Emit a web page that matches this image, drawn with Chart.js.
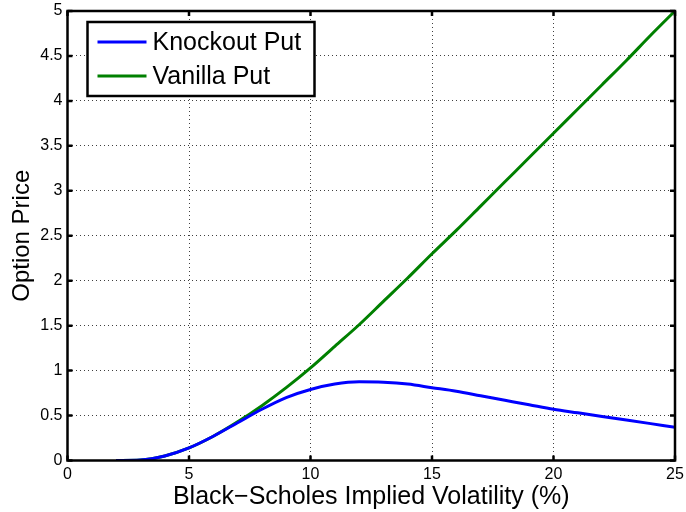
<!DOCTYPE html>
<html>
<head>
<meta charset="utf-8">
<title>Option Price vs Implied Volatility</title>
<script src="https://cdn.jsdelivr.net/npm/chart.js@4.4.1/dist/chart.umd.min.js"></script>
<style>
  body { margin: 0; background: #fff; }
</style>
</head>
<body>
<canvas id="myChart" width="686" height="512"></canvas>
<script>
// implied vol (%)
var vols = [2, 3, 4, 5, 6, 7, 8, 9, 10, 11, 12, 13, 14, 15, 16, 17, 18, 19, 20, 21, 22, 23, 24, 25];
var knockoutPut = [0, 0.005, 0.05, 0.14, 0.27, 0.42, 0.57, 0.70, 0.79, 0.85, 0.875, 0.87, 0.85, 0.81, 0.77, 0.72, 0.67, 0.62, 0.57, 0.53, 0.49, 0.45, 0.41, 0.37];
var vanillaPut = [0, 0.005, 0.05, 0.14, 0.27, 0.43, 0.61, 0.81, 1.03, 1.27, 1.51, 1.77, 2.03, 2.30, 2.56, 2.83, 3.10, 3.37, 3.64, 3.91, 4.18, 4.45, 4.73, 5.0];
var xTickLabels = ['0', '5', '10', '15', '20', '25'];
var yTickLabels = ['0', '0.5', '1', '1.5', '2', '2.5', '3', '3.5', '4', '4.5', '5'];

function toPoints(ys) {
    var pts = [];
    for (var i = 0; i < vols.length; i++) pts.push({x: vols[i], y: ys[i]});
    return pts;
}

var FONT = 'Liberation Sans, Arial, Helvetica, sans-serif';

// matlab style box, inward ticks and boxed legend
var matlabBox = {
    id: 'matlabBox',
    afterDraw: function(chart) {
        var ctx = chart.ctx;
        var a = chart.chartArea;
        var sx = chart.scales.x, sy = chart.scales.y;
        var tl = 5;
        ctx.save();
        ctx.strokeStyle = '#000';
        ctx.lineWidth = 2.5;
        ctx.beginPath();
        sx.ticks.forEach(function(t) {
            var px = sx.getPixelForValue(t.value);
            ctx.moveTo(px, a.bottom); ctx.lineTo(px, a.bottom - tl);
            ctx.moveTo(px, a.top); ctx.lineTo(px, a.top + tl);
        });
        sy.ticks.forEach(function(t) {
            var py = sy.getPixelForValue(t.value);
            ctx.moveTo(a.left, py); ctx.lineTo(a.left + tl, py);
            ctx.moveTo(a.right, py); ctx.lineTo(a.right - tl, py);
        });
        ctx.stroke();
        ctx.strokeRect(a.left, a.top, a.right - a.left, a.bottom - a.top);

        // legend
        var lx = a.left + 20, ly = a.top + 11, lw = 227, lh = 74;
        ctx.fillStyle = '#fff';
        ctx.fillRect(lx, ly, lw, lh);
        ctx.strokeRect(lx, ly, lw, lh);
        ctx.font = '25px ' + FONT;
        ctx.textBaseline = 'middle';
        chart.data.datasets.forEach(function(ds, i) {
            var y = ly + 20 + i * 34;
            ctx.strokeStyle = ds.borderColor;
            ctx.lineWidth = 3;
            ctx.beginPath();
            ctx.moveTo(lx + 10, y); ctx.lineTo(lx + 59, y);
            ctx.stroke();
            ctx.fillStyle = '#000';
            ctx.fillText(ds.label, lx + 65, y + 1);
        });
        ctx.restore();
    }
};

var ctx = document.getElementById('myChart');
var myChart = new Chart(ctx, {
    type: 'line',
    data: {
        datasets: [{
            label: 'Knockout Put',
            data: toPoints(knockoutPut),
            borderColor: '#0000ff',
            borderWidth: 3,
            pointRadius: 0,
            cubicInterpolationMode: 'monotone',
            fill: false
        }, {
            label: 'Vanilla Put',
            data: toPoints(vanillaPut),
            borderColor: '#008000',
            borderWidth: 3,
            pointRadius: 0,
            cubicInterpolationMode: 'monotone',
            fill: false
        }]
    },
    options: {
        responsive: false,
        animation: false,
        layout: {padding: {top: 11, right: 11, left: 0, bottom: 0}},
        plugins: {legend: {display: false}, tooltip: {enabled: false}},
        scales: {
            x: {
                type: 'linear',
                min: 0, max: 25,
                afterFit: function(s) { s.height = 51.5; s.paddingLeft = 0; s.paddingRight = 0; },
                ticks: {
                    stepSize: 5, padding: 4, color: '#000', maxRotation: 0,
                    font: {family: FONT, size: 16},
                    callback: function(v, i) { return xTickLabels[i]; }
                },
                grid: {color: 'rgba(0,0,0,0.75)', lineWidth: 1, drawTicks: false},
                border: {display: false, dash: [1, 3]},
                title: {
                    display: true, text: 'Black\u2212Scholes Implied Volatility (%)',
                    color: '#000', font: {family: FONT, size: 25}, padding: {top: 0, bottom: 0}
                }
            },
            y: {
                min: 0, max: 5,
                afterFit: function(s) { s.width = 67.5; s.paddingTop = 0; s.paddingBottom = 0; },
                ticks: {
                    stepSize: 0.5, padding: 5, color: '#000',
                    font: {family: FONT, size: 16},
                    callback: function(v, i) { return yTickLabels[i]; }
                },
                grid: {color: 'rgba(0,0,0,0.75)', lineWidth: 1, drawTicks: false},
                border: {display: false, dash: [1, 3]},
                title: {
                    display: true, text: 'Option Price',
                    color: '#000', font: {family: FONT, size: 24}, padding: {top: 8, bottom: 0}
                }
            }
        }
    },
    plugins: [matlabBox]
});
</script>
</body>
</html>
